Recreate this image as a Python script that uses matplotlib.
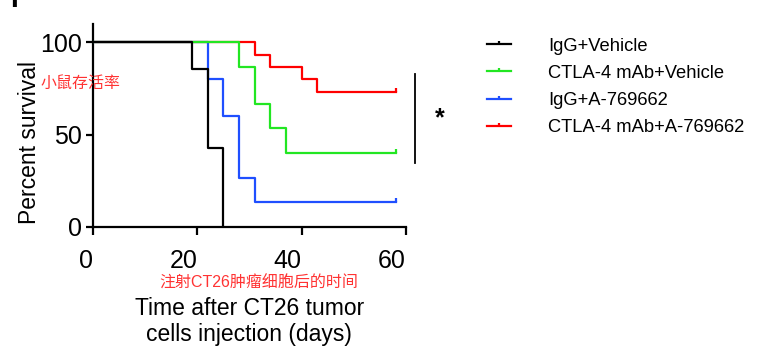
import matplotlib.pyplot as plt
from matplotlib.lines import Line2D
from matplotlib.markers import TICKUP

# survival data (days, percent)
groups = ["IgG+Vehicle", "CTLA-4 mAb+Vehicle", "IgG+A-769662", "CTLA-4 mAb+A-769662"]
colors = ["black", "#22e622", "#1f4fff", "#ff0000"]

igg_veh_t = [0, 19, 22, 25]
igg_veh_s = [100, 85.7, 42.9, 0]

ctla_veh_t = [0, 28, 31, 34, 37, 58]
ctla_veh_s = [100, 86.7, 66.7, 53.3, 40, 40]

igg_a_t = [0, 22, 25, 28, 31, 58]
igg_a_s = [100, 80, 60, 26.7, 13.3, 13.3]

ctla_a_t = [0, 31, 34, 40, 43, 58]
ctla_a_s = [100, 93.3, 86.7, 80, 73.3, 73.3]

x_ticks = [0, 20, 40, 60]
y_ticks = [0, 50, 100]

plt.rcParams['font.family'] = ['Liberation Sans', 'Noto Sans CJK SC', 'DejaVu Sans']

fig = plt.figure(figsize=(7.57, 3.55), dpi=100)
ax = fig.add_axes([0.1225, 0.3614, 0.4138, 0.571])

series = [(igg_veh_t, igg_veh_s), (ctla_veh_t, ctla_veh_s),
          (igg_a_t, igg_a_s), (ctla_a_t, ctla_a_s)]
# draw order so the overlaps look like the original
zorders = [5, 4, 3, 2]
for (t, s), c, z in zip(series, colors, zorders):
    ax.step(t, s, where='post', color=c, lw=1.6, zorder=z)
    if s[-1] > 0:
        ax.plot(t[-1], s[-1], marker=TICKUP, color=c, ms=3, mew=1.6, zorder=z)

ax.set_xlim(0, 60)
ax.set_ylim(0, 110)
ax.set_xticks(x_ticks)
ax.set_yticks(y_ticks)
ax.spines['top'].set_visible(False)
ax.spines['right'].set_visible(False)
for sp in ['left', 'bottom']:
    ax.spines[sp].set_linewidth(1.6)
ax.tick_params(axis='x', length=6, width=1.6, labelsize=18, pad=10)
ax.tick_params(axis='y', length=5, width=1.6, labelsize=18, pad=3)
for lab in ax.get_xticklabels():
    lab.set_horizontalalignment('right')

ax.set_ylabel("Percent survival", fontsize=16.5, labelpad=-1)
ax.yaxis.label.set_y(0.413)
ax.set_xlabel("Time after CT26 tumor\ncells injection (days)", fontsize=16.5,
              labelpad=17, linespacing=1.22)

# red chinese notes
fig.text(0.053, 0.766, "小鼠存活率", color='#ff3333', fontsize=11.5,
         va='center', ha='left')
fig.text(0.342, 0.204, "注射CT26肿瘤细胞后的时间", color='#ff3333',
         fontsize=11.5, va='center', ha='center')

# significance bar
ax.plot([61.7, 61.7], [34.7, 82.8], color='black', lw=1.3, clip_on=False)
ax.text(66.5, 59, "*", fontsize=18, fontweight='bold', ha='center',
        va='center')

# legend
handles = [Line2D([0, 0.5, 1], [0, 0, 0], color=c, lw=1.6, marker=TICKUP,
                  markevery=[1], ms=2.5, mew=1.6) for c in colors]
fig.legend(handles, groups, loc='upper left', bbox_to_anchor=(0.634, 0.915),
           frameon=False, fontsize=13.2, handlelength=1.3, handletextpad=2.0,
           labelspacing=0.56, borderaxespad=0)

# panel letter, cut by the top edge
fig.text(0.013, 1.0, "F", fontsize=20, fontweight='bold', va='center',
         ha='left')

fig.savefig("out.png", dpi=100)
